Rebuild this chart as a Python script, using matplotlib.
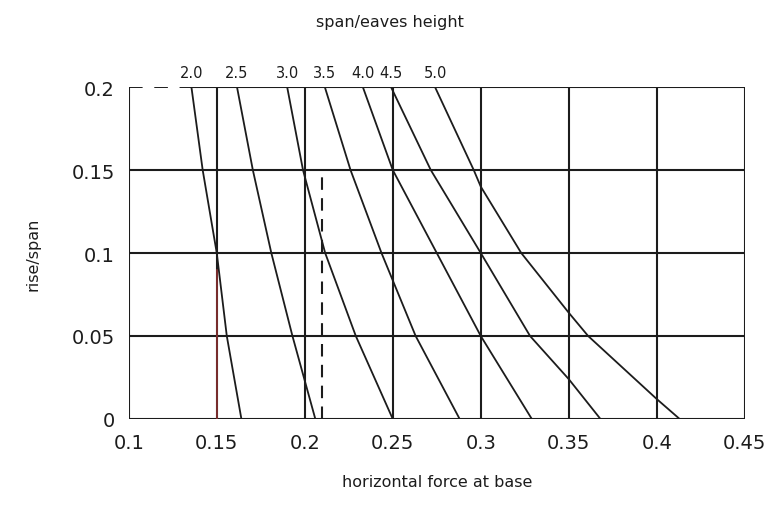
import matplotlib.pyplot as plt

# span/eaves height ratios, one curve each
span_eaves = ["2.0", "2.5", "3.0", "3.5", "4.0", "4.5", "5.0"]

# rise/span values at which each curve was read (top of chart down to base)
rise = {
    "2.0": [0.20, 0.15, 0.10, 0.05, 0.0],
    "2.5": [0.20, 0.15, 0.10, 0.05, 0.0],
    "3.0": [0.20, 0.15, 0.10, 0.05, 0.0],
    "3.5": [0.20, 0.15, 0.10, 0.05, 0.0],
    "4.0": [0.20, 0.15, 0.10, 0.05, 0.0],
    "4.5": [0.20, 0.15, 0.10, 0.05, 0.024, 0.0],
    "5.0": [0.20, 0.15, 0.14, 0.10, 0.064, 0.05, 0.012, 0.0],
}

# horizontal force at base at those rise/span values
force = {
    "2.0": [0.1356, 0.142, 0.150, 0.1557, 0.164],
    "2.5": [0.1615, 0.1705, 0.181, 0.193, 0.206],
    "3.0": [0.190, 0.199, 0.2116, 0.229, 0.250],
    "3.5": [0.2114, 0.226, 0.2436, 0.263, 0.288],
    "4.0": [0.233, 0.250, 0.275, 0.300, 0.329],
    "4.5": [0.249, 0.2716, 0.300, 0.328, 0.350, 0.368],
    "5.0": [0.274, 0.296, 0.300, 0.323, 0.350, 0.361, 0.400, 0.413],
}

x_ticks = [0.1, 0.15, 0.2, 0.25, 0.3, 0.35, 0.4, 0.45]
x_labels = ["0.1", "0.15", "0.2", "0.25", "0.3", "0.35", "0.4", "0.45"]
y_ticks = [0, 0.05, 0.1, 0.15, 0.2]
y_labels = ["0", "0.05", "0.1", "0.15", "0.2"]

# worked example: rise/span 0.1 read across to the base force
example_force = 0.21
example_top = 0.15

ink = "#1c1c1c"

fig = plt.figure(figsize=(7.71, 5.06), dpi=100)
ax = fig.add_axes([0.167, 0.17, 0.799, 0.656])
ax.set_xlim(x_ticks[0], x_ticks[-1])
ax.set_ylim(y_ticks[0], y_ticks[-1])

for s in ax.spines.values():
    s.set_visible(False)

# grid and frame
for xv in x_ticks:
    ax.plot([xv, xv], [y_ticks[0], y_ticks[-1]], color=ink, lw=1.5, solid_capstyle="butt")
for yv in y_ticks[:-1]:
    ax.plot([x_ticks[0], x_ticks[-1]], [yv, yv], color=ink, lw=1.5)

# top edge: dashed up to where the first curve starts
x_first = force[span_eaves[0]][0]
ax.plot([x_ticks[0], x_first], [y_ticks[-1]] * 2, color=ink, lw=1.4, dashes=(7, 6))
ax.plot([x_first, x_ticks[-1]], [y_ticks[-1]] * 2, color=ink, lw=1.5)

# reddish pencil mark along the 0.15 line below rise/span 0.1
ax.plot([0.15, 0.15], [0, 0.09], color="#8a3030", lw=1.2)

# curves and their labels along the top
for key in span_eaves:
    ax.plot(force[key], rise[key], color=ink, lw=1.3, solid_joinstyle="round")
    ax.annotate(key, xy=(force[key][0], rise[key][0]), xytext=(0, 5),
                textcoords="offset points", ha="center", va="bottom",
                fontsize=10.5, color=ink, annotation_clip=False)

ax.plot([example_force, example_force], [0, example_top], color=ink, lw=1.5,
        dashes=(6, 4))

ax.set_xticks(x_ticks)
ax.set_xticklabels(x_labels)
ax.set_yticks(y_ticks)
ax.set_yticklabels(y_labels)
ax.tick_params(length=0, labelsize=14, labelcolor=ink, pad=10)

ax.set_xlabel("horizontal force at base", fontsize=11.5, color=ink, labelpad=16)
ax.set_ylabel("rise/span", fontsize=11.5, color=ink, labelpad=22)
fig.text(0.506, 0.955, "span/eaves height", ha="center", va="center",
         fontsize=11.5, color=ink)

fig.savefig("out.png", dpi=100, facecolor="white")
